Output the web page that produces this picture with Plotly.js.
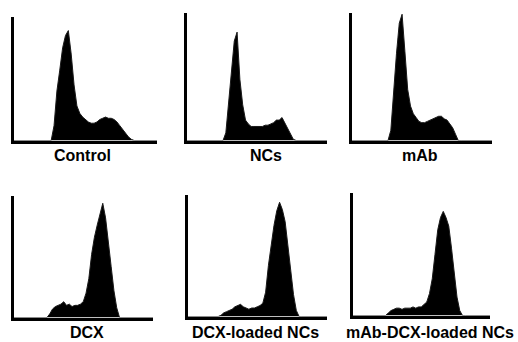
<!DOCTYPE html>
<html>
<head>
<meta charset="utf-8">
<script src="https://cdn.plot.ly/plotly-3.0.1.min.js"></script>
<style>
  html, body { margin: 0; padding: 0; background: #fff; }
  #chart { width: 518px; height: 342px; }
</style>
</head>
<body>
<div id="chart"></div>
<script>
// DNA-content channel (relative fluorescence, 0-100)
const channel = [0, 2, 4, 6, 8, 10, 12, 14, 16, 18, 20, 22, 24, 26, 28, 30, 32, 34, 36, 38,
  40, 42, 44, 46, 48, 50, 52, 54, 56, 58, 60, 62, 64, 66, 68, 70, 72, 74, 76, 78,
  80, 82, 84, 86, 88, 90, 92, 94, 96, 98, 100];

// Cell counts per channel (% of axis height) for each treatment
const control = [0, 0, 0, 0, 0, 0, 0, 0, 0, 0, 0, 0, 0, 0,
  12, 40, 57, 75, 85, 89, 70, 45, 28, 22, 19, 17, 15, 14, 14, 15, 17, 18, 19, 18,
  18, 17, 15, 12, 9, 6, 3, 1,
  0, 0, 0, 0, 0, 0, 0, 0, 0];
const ncs = [0, 0, 0, 0, 0, 0, 0, 0, 0, 0, 0, 0, 0, 0,
  6, 30, 58, 78, 85, 48, 28, 16, 13, 11, 11, 11, 11, 11, 12, 12, 13, 14, 16, 16,
  18, 14, 10, 5, 1,
  0, 0, 0, 0, 0, 0, 0, 0, 0, 0, 0, 0];
const mab = [0, 0, 0, 0, 0, 0, 0, 0, 0, 0, 0, 0, 0, 0,
  8, 40, 68, 92, 99, 70, 40, 27, 21, 18, 15, 14, 14, 15, 16, 17, 18, 19, 19, 17,
  16, 13, 10, 5,
  0, 0, 0, 0, 0, 0, 0, 0, 0, 0, 0, 0, 0];
const dcx = [0, 0, 0, 0, 0, 0, 0, 0, 0, 0, 0, 0, 0,
  3, 7, 9, 10, 11, 13, 10, 11, 9, 10, 10, 11, 13, 20, 32, 52, 66, 76, 85, 94, 82,
  60, 42, 22, 8,
  0, 0, 0, 0, 0, 0, 0, 0, 0, 0, 0, 0, 0];
const dcxNcs = [0, 0, 0, 0, 0, 0, 0, 0, 0, 0, 0, 0,
  1, 3, 4, 5, 6, 8, 9, 10, 8, 7, 6, 7, 7, 8, 9, 11, 20, 42, 60, 75, 87, 94, 88, 78,
  58, 38, 18, 5,
  0, 0, 0, 0, 0, 0, 0, 0, 0, 0, 0];
const mabDcxNcs = [0, 0, 0, 0, 0, 0, 0, 0, 0, 0, 0, 0, 0,
  2, 4, 5, 6, 6, 5, 6, 6, 6, 7, 6, 7, 7, 9, 11, 18, 30, 50, 70, 80, 85, 80, 73,
  55, 33, 15, 4,
  0, 0, 0, 0, 0, 0, 0, 0, 0, 0, 0];

const labels = ["Control", "NCs", "mAb", "DCX", "DCX-loaded NCs", "mAb-DCX-loaded NCs"];
const series = [control, ncs, mab, dcx, dcxNcs, mabDcxNcs];

// Panel frames in pixels: y-axis line x, x-axis right end, x-axis line y, y-axis top
const W = 518, H = 342;
const frames = [
  {x0: 12.5, x1: 157, y0: 142, y1: 17},
  {x0: 185, x1: 327, y0: 142, y1: 13},
  {x0: 350, x1: 492, y0: 142, y1: 13},
  {x0: 12,  x1: 153, y0: 319, y1: 196},
  {x0: 186, x1: 327, y0: 318, y1: 195},
  {x0: 351, x1: 490, y0: 317, y1: 193}
];
// Caption centres in pixels
const captionPos = [
  {x: 82, y: 155}, {x: 266, y: 155}, {x: 420, y: 155},
  {x: 87, y: 332}, {x: 255, y: 332}, {x: 430, y: 332}
];

const LW = 3;
const traces = [];
const layout = {
  width: W, height: H,
  margin: {l: 0, r: 0, t: 0, b: 0},
  paper_bgcolor: "#ffffff",
  plot_bgcolor: "rgba(0,0,0,0)",
  showlegend: false,
  annotations: []
};

series.forEach((counts, i) => {
  const n = i === 0 ? "" : String(i + 1);
  const f = frames[i];
  traces.push({
    type: "scatter",
    mode: "lines",
    x: channel,
    y: counts,
    xaxis: "x" + n,
    yaxis: "y" + n,
    fill: "tozeroy",
    fillcolor: "#000000",
    line: {color: "#1a1a1a", width: 1, shape: "linear"},
    hoverinfo: "skip"
  });
  const axBase = {
    showgrid: false, zeroline: false, showticklabels: false, ticks: "",
    showline: true, linecolor: "#000000", linewidth: LW, mirror: false,
    fixedrange: true
  };
  layout["xaxis" + n] = Object.assign({}, axBase, {
    domain: [(f.x0 + LW / 2) / W, f.x1 / W],
    range: [0, 100],
    anchor: "y" + n
  });
  layout["yaxis" + n] = Object.assign({}, axBase, {
    domain: [1 - (f.y0 - LW / 2) / H, 1 - f.y1 / H],
    range: [0, 100],
    anchor: "x" + n
  });
  layout.annotations.push({
    xref: "paper", yref: "paper",
    x: captionPos[i].x / W, y: 1 - captionPos[i].y / H,
    xanchor: "center", yanchor: "middle",
    showarrow: false,
    text: "<b>" + labels[i] + "</b>",
    font: {family: "Liberation Sans, Arial, sans-serif", size: 16, color: "#000000"}
  });
});

Plotly.newPlot("chart", traces, layout, {staticPlot: true, displayModeBar: false});
</script>
</body>
</html>
